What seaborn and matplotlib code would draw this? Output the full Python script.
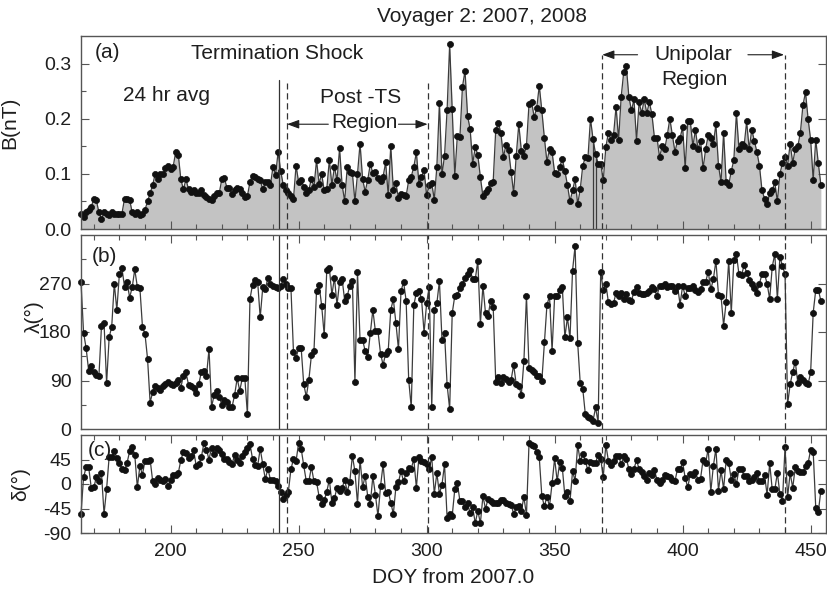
import numpy as np
import pandas as pd
import matplotlib
matplotlib.use("Agg")
import matplotlib.pyplot as plt
from matplotlib.ticker import MultipleLocator, FixedLocator, FormatStrFormatter
import seaborn as sns

# ---------------- data (daily averages, DOY from 2007.0) ----------------
doy_first, doy_last = 165, 454

B_nT = [
    0.027, 0.022, 0.03, 0.035, 0.04, 0.055, 0.052, 0.03, 0.018, 0.03,
    0.028, 0.025, 0.031, 0.027, 0.028, 0.027, 0.028, 0.055, 0.055, 0.053,
    0.03, 0.028, 0.03, 0.025, 0.028, 0.035, 0.05, 0.065, 0.08, 0.1,
    0.09, 0.1, 0.1, 0.11, 0.115,
    0.108, 0.113, 0.14, 0.135, 0.09, 0.072, 0.09, 0.072, 0.068, 0.07,
    0.065, 0.065, 0.07, 0.062, 0.058, 0.055, 0.052, 0.06, 0.065, 0.065,
    0.09, 0.092, 0.075, 0.075, 0.063, 0.07, 0.075, 0.072, 0.065, 0.058,
    0.06,
    0.085, 0.097, 0.095, 0.09, 0.088, 0.072, 0.085, 0.085, 0.08, 0.113,
    0.098, 0.14, 0.105, 0.08, 0.07, 0.065, 0.06, 0.055, 0.115, 0.085,
    0.089, 0.077, 0.065, 0.071, 0.091, 0.076, 0.125, 0.082, 0.1, 0.07,
    0.072, 0.125, 0.08, 0.113, 0.088, 0.146, 0.079, 0.051, 0.113, 0.104,
    0.101, 0.05, 0.1, 0.155, 0.09, 0.068, 0.089, 0.118, 0.101, 0.104,
    0.092, 0.087, 0.095, 0.121, 0.061, 0.151, 0.071, 0.083, 0.056, 0.063,
    0.061, 0.06, 0.088, 0.095, 0.113, 0.139, 0.082, 0.095, 0.107, 0.061,
    0.08, 0.083, 0.053, 0.113, 0.229, 0.099, 0.133, 0.216, 0.335, 0.217,
    0.096, 0.169, 0.166, 0.258, 0.287, 0.205, 0.181, 0.118, 0.149, 0.134,
    0.094, 0.059, 0.068, 0.073, 0.084, 0.086, 0.18, 0.192, 0.175, 0.13,
    0.153, 0.143, 0.104, 0.065, 0.133, 0.19, 0.142, 0.133, 0.151, 0.227,
    0.231, 0.203, 0.219, 0.26, 0.215, 0.165, 0.122, 0.145, 0.14, 0.102,
    0.1, 0.113, 0.127,
    0.105, 0.08, 0.05, 0.07, 0.09, 0.045, 0.072, 0.115, 0.13, 0.128,
    0.2, 0.163, 0.136, 0.118, 0.118, 0.088, 0.148, 0.175, 0.162, 0.17,
    0.222, 0.162, 0.24, 0.285, 0.295, 0.24, 0.215, 0.235, 0.16, 0.23,
    0.21, 0.235, 0.21, 0.23, 0.208, 0.165, 0.165, 0.13, 0.15, 0.145,
    0.17, 0.2, 0.17, 0.14, 0.16, 0.165, 0.185, 0.11, 0.195, 0.195,
    0.15, 0.18, 0.145, 0.16, 0.11, 0.145, 0.17, 0.165, 0.155, 0.19,
    0.115, 0.085, 0.175, 0.085, 0.08, 0.105, 0.125, 0.21, 0.145, 0.155,
    0.15, 0.195, 0.145, 0.18, 0.16, 0.14, 0.115, 0.07, 0.055, 0.045,
    0.065, 0.07, 0.085, 0.05, 0.1, 0.12, 0.13, 0.115, 0.155, 0.12,
    0.145, 0.15, 0.175, 0.225, 0.248, 0.2, 0.162, 0.089, 0.162, 0.119,
    0.08,
]

lambda_deg = [
    272, 179, 150, 108, 116, 106, 100, 98, 191, 197,
    85, 170, 190, 270, 221, 288, 298, 264, 272, 244,
    263, 296, 264, 262, 190, 176, 130, 49, 69, 79,
    77, 72, 79, 84, 87, 83, 82, 85, 91, 77,
    99, 105, 82, 79, 77, 66, 83, 106, 108, 98,
    148, 41, 63, 71, 60, 45, 54, 51, 40, 41,
    63, 94, 71, 94, 94, 27, 241, 268, 277, 273,
    207, 263, 259, 281, 270, 266, 264, 261, 265, 278,
    269, 261, 262, 142, 132, 150, 150, 83, 60, 91,
    137, 145, 256, 267,
    229, 174, 295, 299, 249, 281, 230, 273, 278, 238,
    247, 266, 275, 87, 291, 165, 165, 145, 134, 178,
    221, 181, 181, 140, 119, 140, 145, 221, 241, 197,
    148, 256, 273, 238, 91, 40, 230, 253, 257, 242,
    179, 233, 264, 41, 221, 233, 275, 165, 178, 82,
    37, 215, 247, 249, 262, 269, 281, 287, 295, 278,
    278, 312, 195, 266, 215, 210, 238, 227, 88, 96,
    85, 97, 93, 87, 91, 119, 83, 80, 64, 126,
    247, 113, 109, 105, 99, 98, 89, 161, 230, 247,
    145, 246, 247, 258, 264,
    170, 207, 168, 294, 340, 160, 85, 74, 27, 23,
    20, 15, 40, 12, 292, 258, 270, 235, 232, 233,
    253, 246, 252, 241, 250, 239, 238, 255, 264, 252,
    251, 250, 252, 257, 263, 259, 247, 266, 266, 269,
    263, 265, 266, 257, 266, 231, 266, 247, 261, 261,
    266, 258, 254, 259, 273, 273, 292, 259, 278, 312,
    249, 247, 192, 236, 312, 215, 314, 325, 287, 285,
    304, 290, 277, 270, 262, 253, 270, 287, 287, 270,
    241, 301, 325, 241, 319, 303, 287, 46, 83, 106,
    125, 85, 97, 91, 86, 83, 105, 216, 258, 258,
    238,
]

delta_deg = [
    -55, 12, 31, 31, -7, -6, 12, 5, 20, -55,
    -9, 50, 50, 60, 48, 39, 28, 25, 39, 60,
    68, 54, -6, 33, 17, 43, 43, 45, 5, 0,
    11, 8, 5, 9, -3, 8, 17, 17, 20, 44,
    59, 57, 48, 51, 62, 33, 36, 49, 75, 63,
    45, 67, 55, 67, 63, 56, 46, 46, 41, 36,
    54, 45, 39, 51, 59, 67, 74, 46, 34, 33,
    65, 36, 9, 28, 8, 7, 5, -4, -14, -27,
    -21, -14, 27, 46, 42, 75,
    65, 34, 5, 5, 31, 5, 4, -23, -36, -30,
    -14, 8, -35, -26, -7, -12, -7, 8, -14, 4,
    52, 23, -36, 45, -6, 15, -23, -36, 14, -20,
    -59, -4, 36, -17, -14, -34, -55, -6, 4, 23,
    5, 20, 30, 28, 46, -7, 50, 42, 41, 37,
    28, 49, -18, 20, -18, -1, 36, -62, -55, -58,
    -10, 2, -31, -31, -43, -35, -54, -43, -72, -49,
    -72, -22, -46, -27, -31, -35, -35, -35, -30, -30,
    -34, -37, -38, -55, -43, -41, -49, -24, -57, 75,
    72, 70, 59, 49, -22, -41, -23, -41, 1, 47,
    5, 41, 30,
    -22, -15, -32, 23, 6, 72, 42, 55, 42, 25,
    40, 39, 39, 54, 46, 13, 72, 43, 34, 43,
    51, 52, 36, 51, 46, 28, 18, 28, 44, 27,
    22, 14, 8, 20, 17, 25, 8, 2, 8, 16,
    15, 13, 8, 5, 28, 27, 40, 11, -6, 18,
    16, 22, 8, 10, 45, 39, 65, -14, 33, 65,
    -12, 25, -9, 44, 39, 8, 18, 0, 27, 28,
    14, 15, 5, 8, 13, 20, 6, 5, 16, -20,
    38, -10, -10, 20, -18, -31, 68, -24, 20, -7,
    31, 23, 22, 22, 33, 38, 63, 59, -44, -51,
    -12,
]

gap_doy = [365, 366]                 # data-gap edges drawn in panel (a)
ts_doy = 242.5                       # termination shock crossing
boundary_doy = [245.4, 300.65, 368.4, 440.0]

x_ticks = [200, 250, 300, 350, 400, 450]

doy = np.arange(doy_first, doy_last + 1)
df = pd.DataFrame({"doy": doy, "B": B_nT, "lam": lambda_deg, "delta": delta_deg})

# ---------------- style ----------------
sns.set_theme(style="ticks")
plt.rcParams["font.family"] = ["Liberation Sans", "DejaVu Sans"]
plt.rcParams["axes.unicode_minus"] = False
ink = "#1e1e1e"
line_c = "#3c3c3c"
frame_c = "#555555"

W, H = 827, 599
fig = plt.figure(figsize=(W / 100, H / 100), dpi=100)


def rect(l, t, r, b):
    return [l / W, 1 - b / H, (r - l) / W, (b - t) / H]


axa = fig.add_axes(rect(81, 36, 826, 229))
axb = fig.add_axes(rect(81, 235, 826, 429))
axc = fig.add_axes(rect(81, 435, 826, 533))

line_kw = dict(color=line_c, lw=0.9, marker="o", markersize=4.4,
               markerfacecolor="#111111", markeredgecolor="#111111",
               markeredgewidth=0.5, clip_on=False, errorbar=None, legend=False)

# panel a
axa.fill_between(df["doy"], 0, df["B"], color="#c3c3c3", lw=0, zorder=0)
sns.lineplot(data=df, x="doy", y="B", ax=axa, **line_kw)
gap_vals = df.set_index("doy").loc[gap_doy, "B"]
axa.vlines(gap_vals.index, 0, gap_vals.values, color=line_c, lw=0.9, zorder=1)

# panel b, c
sns.lineplot(data=df, x="doy", y="lam", ax=axb, **line_kw)
sns.lineplot(data=df, x="doy", y="delta", ax=axc, **line_kw)

for ax in (axa, axb, axc):
    ax.set_xlim(165, 456)
    ax.xaxis.set_major_locator(FixedLocator(x_ticks))
    ax.xaxis.set_minor_locator(MultipleLocator(10))
    ax.tick_params(which="both", direction="in", colors=frame_c, width=0.8,
                   labelcolor=ink, labelsize=14, right=True, pad=7)
    ax.tick_params(which="major", length=6)
    ax.tick_params(which="minor", length=3.5)
    for s in ax.spines.values():
        s.set_color(frame_c)
        s.set_linewidth(1.0)
    ax.set_xlabel("")
    ax.set_ylabel("")

axa.tick_params(axis="x", which="both", top=False, bottom=True, labelbottom=False)
axb.tick_params(axis="x", which="both", top=True, bottom=False, labelbottom=False)
axc.tick_params(axis="x", which="both", top=True, bottom=True, labelbottom=True)
axa.tick_params(axis="y", which="minor", right=False)
axb.tick_params(axis="y", which="minor", right=False)

axa.set_ylim(0, 0.35)
axa.yaxis.set_major_locator(FixedLocator([0, 0.1, 0.2, 0.3]))
axa.yaxis.set_minor_locator(FixedLocator([0.05, 0.15, 0.25]))
axa.yaxis.set_major_formatter(FormatStrFormatter("%.1f"))

axb.set_ylim(0, 360)
axb.yaxis.set_major_locator(FixedLocator([0, 90, 180, 270]))
axb.yaxis.set_minor_locator(FixedLocator([45, 135, 225, 315]))

axc.set_ylim(-90, 90)
axc.yaxis.set_major_locator(FixedLocator([-90, -45, 0, 45]))

# vertical boundary lines
dash = (0, (5, 3))
vl = dict(color="#333333", lw=0.9)
axa.axvline(ts_doy, ymax=0.77, **vl)
axb.axvline(ts_doy, **vl)
axc.axvline(ts_doy, **vl)
for d, top in zip(boundary_doy, [0.755, 0.755, 0.9, 0.9]):
    axa.axvline(d, ymax=top, ls=dash, **vl)
    axb.axvline(d, ls=dash, **vl)
    axc.axvline(d, ls=dash, **vl)

# labels
fs = 15
axa.set_ylabel("B(nT)", fontsize=fs, color=ink)
axb.set_ylabel("λ(°)", fontsize=fs, color=ink)
axc.set_ylabel("δ(°)", fontsize=fs, color=ink)
axa.yaxis.set_label_coords(-0.083, 0.55)
axb.yaxis.set_label_coords(-0.05, 0.58)
axc.yaxis.set_label_coords(-0.068, 0.5)
axc.set_xlabel("DOY from 2007.0", fontsize=fs, color=ink, labelpad=6)

fig.text(482 / W, 1 - 17 / H, "Voyager 2: 2007, 2008", ha="center", va="center",
         fontsize=fs, color=ink)

tk = dict(fontsize=fs, color=ink, va="center")
axa.text(175.3, 0.32, "(a)", ha="center", **tk)
axa.text(207.8, 0.318, "Termination Shock", ha="left", **tk)
axa.text(181.6, 0.243, "24 hr avg", ha="left", **tk)
axa.text(274.1, 0.239, "Post -TS", ha="center", **tk)
axa.text(275.7, 0.193, "Region", ha="center", **tk)
axa.text(404.3, 0.316, "Unipolar", ha="center", **tk)
axa.text(404.7, 0.272, "Region", ha="center", **tk)
axb.text(174.1, 321, "(b)", ha="center", **tk)
axc.text(172.5, 62, "(c)", ha="center", **tk)

arr = dict(arrowstyle="-|>,head_length=0.6,head_width=0.22", color=ink, lw=0.8,
           shrinkA=0, shrinkB=0, mutation_scale=12)
axa.annotate("", xy=(245.5, 0.19), xytext=(261.6, 0.19), arrowprops=arr)
axa.annotate("", xy=(300.4, 0.19), xytext=(289.0, 0.19), arrowprops=arr)
axa.annotate("", xy=(368.6, 0.316), xytext=(382.4, 0.316), arrowprops=arr)
axa.annotate("", xy=(439.6, 0.316), xytext=(425.5, 0.316), arrowprops=arr)

fig.savefig("out.png", dpi=100)
